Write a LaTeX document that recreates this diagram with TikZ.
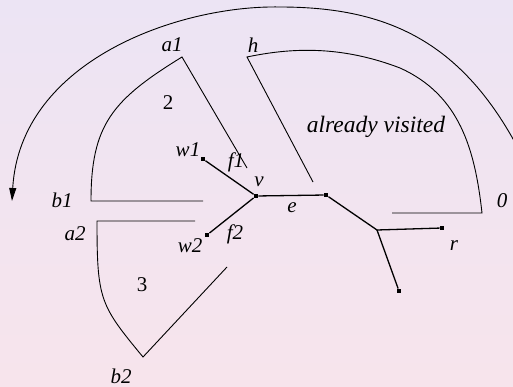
\documentclass[tikz,border=0pt]{standalone}
\usepackage{fontspec}
\setmainfont{Liberation Serif}
\usetikzlibrary{arrows.meta, positioning}
\definecolor{bgtop}{RGB}{236,228,244}
\definecolor{bgbottom}{RGB}{247,228,236}

\begin{document}
\begin{tikzpicture}[
    x=1pt, y=-1pt,
    lbl/.style={font=\fontsize{21}{24}\selectfont\itshape, inner sep=0pt},
    num/.style={font=\fontsize{21}{24}\selectfont, inner sep=0pt},
    dot/.style={fill, rectangle, minimum size=4.5pt, inner sep=0pt},
    edge/.style={line width=1.3pt},
    bound/.style={line width=0.9pt},
    arrow/.style={-{Triangle[length=13pt, width=7pt]}, line width=0.9pt}
]
\useasboundingbox (0,0) rectangle (513,387);
\clip (0,0) rectangle (513,387);
\fill[top color=bgtop, bottom color=bgbottom] (0,0) rectangle (513,387);

\coordinate (arcstart) at (540,195);
\coordinate (arctop) at (280,7);
\coordinate (arcend) at (12,201);
\draw[arrow] (arcstart) .. controls (480,50) and (400,7) .. (arctop)
             .. controls (180,5) and (20,60) .. (arcend);

\draw[bound] (203,201) -- (91,201) .. controls (91,125) and (112,100) .. (182,57) -- (247,168);
\draw[bound] (195,221) -- (97,221) .. controls (97,300) and (100,305) .. (143,357) -- (227,267);
\draw[bound] (313,182) -- (247,57) .. controls (290,48) and (340,45) .. (400,68)
             .. controls (460,95) and (475,150) .. (482,213) -- (392,213);

\node[dot] (v)  at (256,196) {};
\node[dot] (w1) at (203,159) {};
\node[dot] (w2) at (207,235) {};
\node[dot] (u)  at (326,195) {};
\coordinate (j) at (377,230);
\node[dot] (r)  at (442,228) {};
\node[dot] (t)  at (399,291) {};
\draw[edge] (w1) -- (v) -- (w2);
\draw[edge] (v) -- (u) -- (j) -- (r);
\draw[edge] (j) -- (t);

\node[lbl] (la1) at (172,45) {a1};
\node[lbl] (lh)  at (253,45) {h};
\node[num] (l2)  at (168,103) {2};
\node[lbl] (lw1) at (188,150) {w1};
\node[lbl] (lf1) at (236,162) {f1};
\node[lbl] (lv)  at (259,182) {v};
\node[lbl] (lb1) at (62,200) {b1};
\node[lbl] (la2) at (75,234) {a2};
\node[lbl] (lw2) at (190,246) {w2};
\node[lbl] (lf2) at (235,234) {f2};
\node[lbl] (le)  at (292,208) {e};
\node[num] (l3)  at (142,285) {3};
\node[lbl] (lb2) at (121,376) {b2};
\node[lbl, font=\fontsize{23.5}{27}\selectfont\itshape] (lvis) at (376,127) {already visited};
\node[lbl] (l0)  at (502,201) {0};
\node[lbl] (lr)  at (454,246) {r};
\end{tikzpicture}
\end{document}
